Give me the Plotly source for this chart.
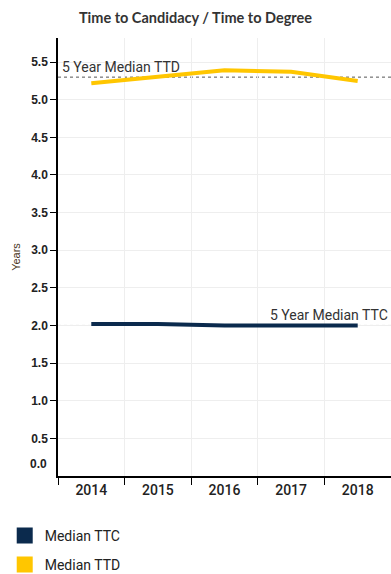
import plotly.graph_objects as go

years = ["2014", "2015", "2016", "2017", "2018"]
median_ttc = [2.02, 2.02, 2.00, 2.00, 2.00]
median_ttd = [5.22, 5.30, 5.39, 5.37, 5.25]
five_year_median_ttc = 2.00
five_year_median_ttd = 5.30
y_tick_vals = [0.5, 1.0, 1.5, 2.0, 2.5, 3.0, 3.5, 4.0, 4.5, 5.0, 5.5]
y_tick_text = ["0.5", "1.0", "1.5", "2.0", "2.5", "3.0", "3.5", "4.0", "4.5", "5.0", "5.5"]

NAVY = "#0b2a4d"
GOLD = "#ffc600"
COND = "Roboto, Liberation Sans, sans-serif"
ARIAL = "Liberation Sans, Arial, sans-serif"

fig = go.Figure()
fig.add_trace(go.Scatter(x=years, y=median_ttc, mode="lines", line=dict(color=NAVY, width=4),
                         showlegend=False, hoverinfo="skip"))
fig.add_trace(go.Scatter(x=years, y=median_ttd, mode="lines", line=dict(color=GOLD, width=4),
                         showlegend=False, hoverinfo="skip"))
# legend entries (square swatches)
fig.add_trace(go.Scatter(x=[None], y=[None], mode="markers", name="Median TTC", legendgroup="a",
                         marker=dict(symbol="square", size=16, color=NAVY)))
fig.add_trace(go.Scatter(x=[None], y=[None], mode="markers", name="Median TTD", legendgroup="b",
                         marker=dict(symbol="square", size=16, color=GOLD)))

for v in (five_year_median_ttd, five_year_median_ttc):
    fig.add_shape(type="line", xref="paper", yref="y", x0=0, x1=1, y0=v, y1=v,
                  line=dict(color="#555555", width=1, dash="dot"), layer="below")

fig.add_annotation(xref="paper", yref="y", x=0, y=five_year_median_ttd, xanchor="left", yanchor="bottom",
                   text="5 Year Median TTD", showarrow=False, xshift=2, yshift=0,
                   font=dict(family=COND, size=14, color="#333333"))
fig.add_annotation(xref="paper", yref="y", x=1, y=five_year_median_ttc, xanchor="right", yanchor="bottom",
                   text="5 Year Median TTC", showarrow=False, xshift=-1, yshift=0,
                   font=dict(family=COND, size=14, color="#333333"))
fig.add_annotation(xref="paper", yref="y", x=0, y=0, xanchor="right", yanchor="middle",
                   text="0.0", showarrow=False, xshift=-9, yshift=12,
                   font=dict(family=ARIAL, size=12, color="#222222", weight="bold"))

fig.update_layout(
    width=391, height=574,
    margin=dict(l=58, r=0, t=38, b=98, autoexpand=False),
    paper_bgcolor="white", plot_bgcolor="white",
    title=dict(text="Time to Candidacy / Time to Degree", x=0.5, xanchor="center", y=0.968, yanchor="middle",
               font=dict(family="Lato, Open Sans, sans-serif", size=14.5, color="#333333", weight="bold")),
    showlegend=True,
    legend=dict(x=-0.16, xanchor="left", y=-0.1, yanchor="top", traceorder="grouped", tracegroupgap=8,
                font=dict(family=COND, size=14, color="#222222"), bgcolor="rgba(0,0,0,0)"),
    hovermode=False,
)
fig.update_xaxes(type="category", range=[-0.5, 4.5], tickson="boundaries", ticks="outside", ticklen=7,
                 tickcolor="#000", showline=True, linecolor="#000", linewidth=1.5,
                 showgrid=True, gridcolor="#eeeeee", gridwidth=1, zeroline=False, fixedrange=True,
                 tickfont=dict(family=COND, size=14, color="#222222", weight=500))
fig.update_yaxes(range=[0, 5.82], tickvals=y_tick_vals, ticktext=y_tick_text, ticks="outside", ticklen=6,
                 tickcolor="#000", showline=True, linecolor="#000", linewidth=1.5,
                 showgrid=True, gridcolor="#eeeeee", gridwidth=1, zeroline=False, fixedrange=True,
                 tickfont=dict(family=ARIAL, size=12, color="#222222", weight="bold"),
                 title=dict(text="Years", standoff=8,
                            font=dict(family=ARIAL, size=11, color="#4a3520")))

fig.write_html("out.html", config={"displayModeBar": False},
               post_script="document.body.style.margin='0px';document.body.style.overflow='hidden';")
